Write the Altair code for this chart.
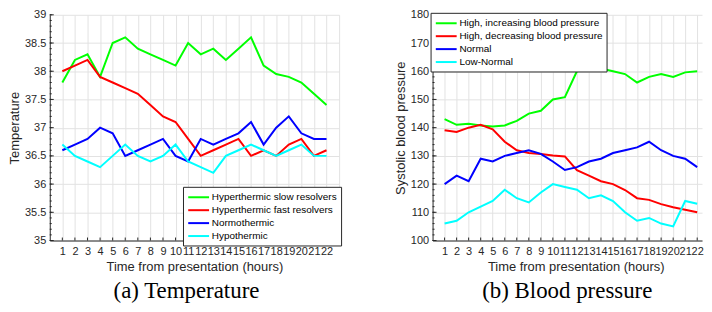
import altair as alt
import pandas as pd
import numpy as np

hours = list(range(1, 23))

temp_names = ["Hyperthermic slow resolvers", "Hyperthermic fast resolvers",
              "Normothermic", "Hypothermic"]
temp_slow = [37.8, 38.2, 38.3, 37.9, 38.5, 38.6, 38.4, 38.3, 38.2, 38.1, 38.5,
             38.3, 38.4, 38.2, 38.4, 38.6, 38.1, 37.95, 37.9, 37.8, 37.6, 37.4]
temp_fast = [38.0, 38.1, 38.2, 37.9, 37.8, 37.7, 37.6, 37.4, 37.2, 37.1, 36.8,
             36.5, 36.6, 36.7, 36.8, 36.5, 36.6, 36.5, 36.7, 36.8, 36.5, 36.6]
temp_normo = [36.6, 36.7, 36.8, 37.0, 36.9, 36.5, 36.6, 36.7, 36.8, 36.5, 36.4,
              36.8, 36.7, 36.8, 36.9, 37.1, 36.7, 37.0, 37.2, 36.9, 36.8, 36.8]
temp_hypo = [36.7, 36.5, 36.4, 36.3, 36.5, 36.7, 36.5, 36.4, 36.5, 36.7, 36.4,
             36.3, 36.2, 36.5, 36.6, 36.7, 36.6, 36.5, 36.6, 36.7, 36.5, 36.5]

bp_names = ["High, increasing blood pressure", "High, decreasing blood pressure",
            "Normal", "Low-Normal"]
bp_high_inc = [143, 141, 141.4, 140.8, 140.4, 140.8, 142.4, 145, 146, 150, 150.8,
               160, 160.6, 161, 160, 159, 156, 158, 159, 158, 159.6, 160]
bp_high_dec = [139.1, 138.5, 140, 141, 139.4, 135, 132, 131, 130.7, 130.1, 129.8,
               124.9, 123, 121, 120, 117.9, 115, 114.4, 112.9, 111.8, 110.9, 110]
bp_normal = [120, 123, 121, 129, 128, 130, 131, 132, 130.7, 128, 125,
             126, 128, 129, 131, 132, 133, 135, 132, 130, 129, 126]
bp_low = [106, 107, 110, 112, 114, 118, 115, 113.5, 117, 120, 119,
          118, 115, 116, 114, 110, 107, 108, 106, 105, 114, 113]

colors = ["#00ff00", "#ff0000", "#0000ff", "#00ffff"]

AX = "#262626"
GRID = "#e2e2e2"
FONT = "Liberation Sans"
H = 227


def panel(names, series, ydom, ystep, minor_step, ytitle, width, xmax,
          leg_xy, caption, title_x, cap_dx):
    rows = []
    for n, s in zip(names, series):
        for h, v in zip(hours, s):
            rows.append({"hour": h, "value": v, "series": n})
    df = pd.DataFrame(rows)
    xscale = alt.Scale(domain=[0, xmax], nice=False, zero=False)
    yscale = alt.Scale(domain=ydom, nice=False, zero=False)
    grid_x = [h for h in range(1, 24) if h <= xmax]
    ymajor = [float(v) for v in np.arange(ydom[0], ydom[1] + 1e-9, ystep)]
    yminor = [float(round(v, 3)) for v in np.arange(ydom[0], ydom[1] + 1e-9, minor_step)]

    xaxis = alt.Axis(values=grid_x,
                     labelExpr="datum.value > 22 ? '' : datum.label",
                     title="Time from presentation (hours)",
                     ticks=False, grid=True, labelPadding=5,
                     labelOverlap=False,
                     titlePadding=4, titleX=title_x)
    yaxis = alt.Axis(values=ymajor, format="~f", title=ytitle,
                     ticks=False, grid=True, labelPadding=4, titlePadding=3)

    lines = alt.Chart(df).mark_line(strokeWidth=2, clip=True).encode(
        x=alt.X("hour:Q", scale=xscale, axis=xaxis),
        y=alt.Y("value:Q", scale=yscale, axis=yaxis),
        color=alt.Color("series:N", scale=alt.Scale(domain=names, range=colors),
                        legend=alt.Legend(orient="none", legendX=leg_xy[0],
                                          legendY=leg_xy[1], title=None,
                                          direction="vertical",
                                          symbolType="M-1,0H3", symbolSize=110,
                                          symbolStrokeWidth=2,
                                          labelFont=FONT, labelFontSize=10,
                                          labelColor="black", labelOffset=12,
                                          strokeColor=AX, fillColor="white",
                                          padding=4, rowPadding=1)),
    )

    maj = alt.Chart(pd.DataFrame({"value": ymajor})).mark_rule(
        color=AX, strokeWidth=1).encode(
        y=alt.Y("value:Q", scale=yscale, axis=yaxis),
        x=alt.value(0), x2=alt.value(4))
    mino = alt.Chart(pd.DataFrame({"value": yminor})).mark_rule(
        color=AX, strokeWidth=1).encode(
        y=alt.Y("value:Q", scale=yscale, axis=yaxis),
        x=alt.value(0), x2=alt.value(2))
    xt = alt.Chart(pd.DataFrame({"hour": hours})).mark_rule(
        color=AX, strokeWidth=1).encode(
        x=alt.X("hour:Q", scale=xscale, axis=xaxis),
        y=alt.value(H), y2=alt.value(H - 3))

    return alt.layer(lines, mino, maj, xt).properties(
        width=width, height=H,
        title=alt.TitleParams(caption, orient="bottom", font="Liberation Serif",
                              fontSize=23, fontWeight="normal", color="black",
                              offset=7, frame="group", anchor="middle",
                              dx=cap_dx))


left = panel(temp_names, [temp_slow, temp_fast, temp_normo, temp_hypo],
             [35, 39], 0.5, 0.1, "Temperature", 291, 23, (134, 173),
             "(a) Temperature", 145.5, -8)
right = panel(bp_names, [bp_high_inc, bp_high_dec, bp_normal, bp_low],
              [100, 180], 10, 2, "Systolic blood pressure", 271, 22.4,
              (-2, -2), "(b) Blood pressure", 144, 0)

chart = alt.hconcat(left, right, spacing=52).resolve_scale(
    color="independent"
).properties(
    padding=0
).configure_view(
    stroke=None
).configure_axis(
    domainColor=AX, domainWidth=1, labelColor=AX, titleColor=AX,
    gridColor=GRID, gridWidth=1, labelFont=FONT, titleFont=FONT,
    labelFontSize=11, titleFontSize=13, titleFontWeight="normal"
)

chart.save("out.html", embed_options={"renderer": "svg", "actions": False})
